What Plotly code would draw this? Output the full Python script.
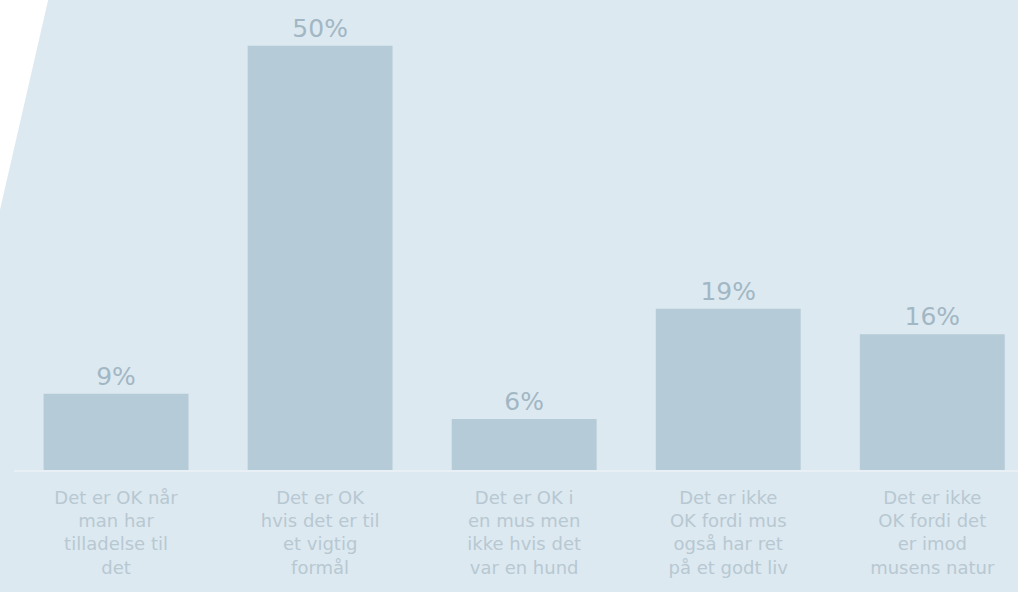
import plotly.graph_objects as go

categories = [
    "Det er OK når<br>man har<br>tilladelse til<br>det",
    "Det er OK<br>hvis det er til<br>et vigtig<br>formål",
    "Det er OK i<br>en mus men<br>ikke hvis det<br>var en hund",
    "Det er ikke<br>OK fordi mus<br>også har ret<br>på et godt liv",
    "Det er ikke<br>OK fordi det<br>er imod<br>musens natur",
]
values = [9, 50, 6, 19, 16]
value_labels = ["9%", "50%", "6%", "19%", "16%"]

BG = "#dde9f0"
BAR = "#b5cbd7"
VAL_TXT = "#a2b7c4"
TICK_TXT = "#b7c8d2"

fig = go.Figure(
    go.Bar(
        x=categories,
        y=values,
        text=value_labels,
        textposition="outside",
        textfont=dict(size=25, color=VAL_TXT, family="DejaVu Sans"),
        marker=dict(color=BAR, line=dict(width=0)),
        cliponaxis=False,
        hoverinfo="skip",
    )
)

fig.update_layout(
    width=1018,
    height=592,
    paper_bgcolor=BG,
    plot_bgcolor=BG,
    margin=dict(l=14, r=0, t=0, b=122),
    bargap=0.29,
    showlegend=False,
    font=dict(family="DejaVu Sans", color=TICK_TXT),
    shapes=[
        dict(
            type="path",
            xref="paper",
            yref="paper",
            path="M -0.014 1.0 L 0.034 1.0 L -0.014 0.553 Z",
            fillcolor="#ffffff",
            line=dict(width=0),
            layer="above",
        )
    ],
)

fig.update_xaxes(
    range=[-0.5, 4.42],
    showgrid=False,
    zeroline=False,
    showline=True,
    linecolor="#e9f0f5",
    linewidth=2,
    ticks="outside",
    ticklen=10,
    tickcolor="rgba(0,0,0,0)",
    tickfont=dict(size=18, color=TICK_TXT, family="DejaVu Sans"),
    tickangle=0,
)
fig.update_yaxes(
    range=[0, 55.4],
    visible=False,
    showgrid=False,
    zeroline=False,
)

fig.write_html(
    "out.html",
    config={"displayModeBar": False},
    post_script="document.body.style.margin='0';document.body.style.background='#dde9f0';",
)
